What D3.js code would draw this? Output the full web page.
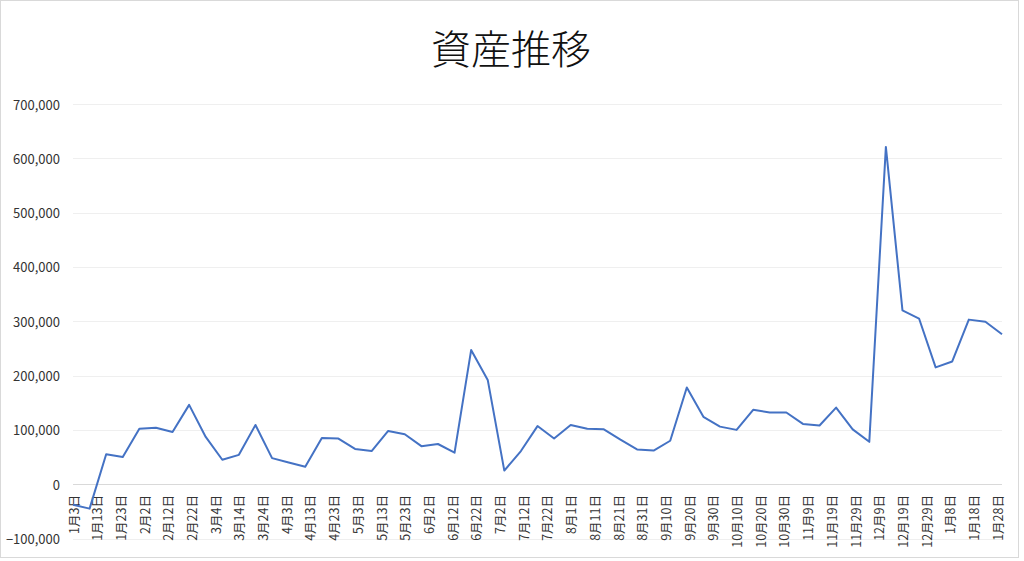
<!DOCTYPE html>
<html>
<head>
<meta charset="utf-8">
<script src="https://cdn.jsdelivr.net/npm/d3@7"></script>
<style>
  body { margin: 0; background: #fff; }
  svg { display: block; font-family: "Noto Sans CJK JP", "Noto Sans", sans-serif; }
</style>
</head>
<body>
<div id="chart"></div>
<script>
"use strict"

// weekly snapshot dates (Sunday) and asset totals
var dates = [
  "2021-01-03", "2021-01-10", "2021-01-17", "2021-01-24", "2021-01-31",
  "2021-02-07", "2021-02-14", "2021-02-21", "2021-02-28",
  "2021-03-07", "2021-03-14", "2021-03-21", "2021-03-28",
  "2021-04-04", "2021-04-11", "2021-04-18", "2021-04-25",
  "2021-05-02", "2021-05-09", "2021-05-16", "2021-05-23", "2021-05-30",
  "2021-06-06", "2021-06-13", "2021-06-20", "2021-06-27",
  "2021-07-04", "2021-07-11", "2021-07-18", "2021-07-25",
  "2021-08-01", "2021-08-08", "2021-08-15", "2021-08-22", "2021-08-29",
  "2021-09-05", "2021-09-12", "2021-09-19", "2021-09-26",
  "2021-10-03", "2021-10-10", "2021-10-17", "2021-10-24", "2021-10-31",
  "2021-11-07", "2021-11-14", "2021-11-21", "2021-11-28",
  "2021-12-05", "2021-12-12", "2021-12-19", "2021-12-26",
  "2022-01-02", "2022-01-09", "2022-01-16", "2022-01-23", "2022-01-30"
];

var assets = [
  -38000, -45000, 55000, 50000, 102000, 104000, 96000, 146000, 87000,
  45000, 54000, 109000, 48000, 40000, 32000, 85000, 84000, 65000,
  61000, 98000, 92000, 70000, 74000, 58000, 247000, 192000, 25000,
  61000, 107000, 84000, 109000, 102000, 101000, 82000, 64000, 62000,
  80000, 178000, 124000, 106000, 100000, 137000, 132000, 132000, 111000,
  108000, 141000, 101000, 78000, 621000, 320000, 305000, 215000, 226000,
  303000, 299000, 276000
];

var yTicks = [-100000, 0, 100000, 200000, 300000, 400000, 500000, 600000, 700000];
var title = "資産推移";

var width = 1024;
var height = 561;
var margin = { top: 104, right: 22, bottom: 23, left: 73 };

var parse = d3.timeParse("%Y-%m-%d");
var data = dates.map(function(d, i) { return { date: parse(d), value: assets[i] }; });

var x = d3.scaleTime()
  .domain(d3.extent(data, function(d) { return d.date; }))
  .range([margin.left, width - margin.right]);

var y = d3.scaleLinear()
  .domain([-100000, 700000])
  .range([538.5, margin.top]);

var svg = d3.select("#chart").append("svg")
  .attr("width", width)
  .attr("height", height);

// outer frame
svg.append("rect")
  .attr("x", 0.5).attr("y", 0.5)
  .attr("width", 1018).attr("height", 557)
  .attr("fill", "#fff")
  .attr("stroke", "#d9d9d9");

svg.append("text")
  .attr("x", 511)
  .attr("y", 47)
  .attr("text-anchor", "middle")
  .attr("dominant-baseline", "central")
  .attr("font-size", 40)
  .attr("font-weight", 300)
  .attr("fill", "#111")
  .text(title);

// gridlines
svg.append("g")
  .selectAll("line")
  .data(yTicks)
  .join("line")
  .attr("x1", margin.left)
  .attr("x2", width - margin.right)
  .attr("y1", function(d) { return Math.round(y(d)) + 0.5; })
  .attr("y2", function(d) { return Math.round(y(d)) + 0.5; })
  .attr("stroke", function(d) { return d === 0 ? "#d9d9d9" : "#efefef"; })
  .attr("stroke-width", 1);

// y labels
var fmt = d3.format(",");
svg.append("g")
  .selectAll("text")
  .data(yTicks)
  .join("text")
  .attr("x", 60)
  .attr("y", function(d) { return y(d); })
  .attr("text-anchor", "end")
  .attr("dominant-baseline", "central")
  .attr("font-size", 13)
  .attr("fill", "#333")
  .text(function(d) { return fmt(d); });

// x labels every 10 days, rotated
var tickDates = d3.timeDay.range(x.domain()[0], d3.timeDay.offset(x.domain()[1], 1), 10);
var dayFmt = d3.timeFormat("%-m月%-d日");
svg.append("g")
  .selectAll("text")
  .data(tickDates)
  .join("text")
  .attr("transform", function(d) { return "translate(" + x(d) + ",495) rotate(-90)"; })
  .attr("text-anchor", "end")
  .attr("dominant-baseline", "central")
  .attr("font-size", 12.5)
  .attr("fill", "#333")
  .text(function(d) { return dayFmt(d); });

var line = d3.line()
  .x(function(d) { return x(d.date); })
  .y(function(d) { return y(d.value); });

svg.append("path")
  .datum(data)
  .attr("d", line)
  .attr("fill", "none")
  .attr("stroke", "#4472c4")
  .attr("stroke-width", 2)
  .attr("stroke-linejoin", "round");
</script>
</body>
</html>
